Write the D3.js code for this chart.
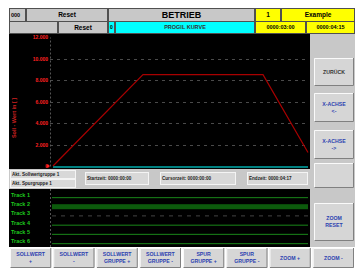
<!DOCTYPE html>
<html>
<head>
<meta charset="utf-8">
<script src="https://cdn.jsdelivr.net/npm/d3@7"></script>
<style>
body { margin: 0; background: #fff; }
svg { display: block; }
text { font-family: "Liberation Sans", Arial, sans-serif; font-weight: bold; }
</style>
</head>
<body>
<div id="chart"></div>
<script>
// Sollwert curve (time in seconds, value)
var timeSec = [0, 90, 210, 255];
var sollwert = [0, 8500, 8500, 1250];
var yTicks = [0, 2000, 4000, 6000, 8000, 10000, 12000];
var timeMax = 255;

// tracks: 0 = no signal, 1 = thin, 2 = active band
var trackNames = ["Track 1", "Track 2", "Track 3", "Track 4", "Track 5", "Track 6"];
var trackLevel = [1, 2, 0, 1, 1, 1];

var infoLeft = ["Akt. Sollwertgruppe  1", "Akt. Spurgruppe        1"];
var infoTimes = ["Startzeit: 0000:00:00", "Cursorzeit: 0000:00:00", "Endzeit: 0000:04:17"];

var bottomButtons = [["SOLLWERT", "+"], ["SOLLWERT", "-"], ["SOLLWERT", "GRUPPE +"], ["SOLLWERT", "GRUPPE -"],
                     ["SPUR", "GRUPPE +"], ["SPUR", "GRUPPE -"], ["ZOOM +"], ["ZOOM -"]];
var sideButtons = [["ZURÜCK"], ["X-ACHSE", "<-"], ["X-ACHSE", "->"], [], ["ZOOM", "RESET"]];

var W = 355, H = 269;
var svg = d3.select("#chart").append("svg")
    .attr("width", W)
    .attr("height", H);

var gray = "#c8c8c8";

//top bar
function cell(x, y, w, h, fill, label, opt) {
  opt = opt || {};
  svg.append("rect")
    .attr("x", x + 0.5).attr("y", y + 0.5)
    .attr("width", w - 1).attr("height", h - 1)
    .attr("fill", fill)
    .attr("stroke", "#505050").attr("stroke-width", 1);
  if (label) {
    svg.append("text")
      .attr("x", opt.left ? x + 2 : x + w / 2)
      .attr("y", y + h / 2)
      .attr("dy", "0.35em")
      .attr("text-anchor", opt.left ? "start" : "middle")
      .attr("font-size", opt.size || 6.5)
      .attr("fill", opt.color || "#000")
      .text(label);
  }
}
cell(9, 8, 17, 14, gray, "000", {left: true, size: 5.5});
cell(26, 8, 82, 14, gray, "Reset");
cell(108, 8, 147, 14, gray, "BETRIEB", {size: 9});
cell(255, 8, 26, 14, "#ffff00", "1");
cell(281, 8, 74, 14, "#ffff00", "Example");
cell(9, 21, 49, 13, gray, "");
cell(58, 21, 50, 13, gray, "Reset");
cell(108, 21, 7, 13, "#00ffff", "0", {size: 5});
cell(115, 21, 140, 13, "#00ffff", "PROGIL KURVE", {size: 5.5, color: "#333"});
cell(255, 21, 51, 13, "#ffff00", "0000:03:00", {size: 5.5});
cell(306, 21, 49, 13, "#ffff00", "0000:04:15", {size: 5.5});

// right panel + info band
svg.append("rect").attr("x", 310).attr("y", 34).attr("width", 45).attr("height", 213).attr("fill", gray);
svg.append("rect").attr("x", 9).attr("y", 169).attr("width", 301).attr("height", 20).attr("fill", gray);

//Chart
svg.append("rect").attr("x", 9).attr("y", 34).attr("width", 301).attr("height", 135).attr("fill", "#000");

var xScale = d3.scaleLinear().domain([0, timeMax]).range([53, 308]);
var yScale = d3.scaleLinear().domain([0, 12000]).range([166, 37]);
var de = d3.formatLocale({decimal: ",", thousands: ".", grouping: [3], currency: ["", " €"]});

var grid = svg.append("g");
grid.selectAll("line")
  .data(yTicks.filter(function(d) { return d > 0 && d < 12000; }))
  .join("line")
    .attr("x1", 50).attr("x2", 308)
    .attr("y1", function(d) { return Math.round(yScale(d)) + 0.5; })
    .attr("y2", function(d) { return Math.round(yScale(d)) + 0.5; })
    .attr("stroke", "#4a4a4a")
    .attr("stroke-width", 1)
    .attr("stroke-dasharray", "3,4");

var yAxis = svg.append("g")
  .attr("transform", "translate(50,0)")
  .call(d3.axisLeft(yScale).tickValues(yTicks).tickFormat(de.format(",d")).tickSize(0).tickPadding(2));
yAxis.select(".domain").attr("stroke", "#555").attr("stroke-dasharray", "2,2");
yAxis.selectAll("text").attr("fill", "#ff2020").attr("font-size", 5).attr("font-family", "Liberation Sans, Arial");

svg.append("text")
  .attr("transform", "translate(16,118) rotate(-90)")
  .attr("text-anchor", "middle")
  .attr("font-size", 5.5)
  .attr("fill", "#d02020")
  .text("Soll - Wert in [ ]");

// x baseline
svg.append("line")
  .attr("x1", xScale(0)).attr("x2", xScale(timeMax))
  .attr("y1", 167).attr("y2", 167)
  .attr("stroke", "#008080").attr("stroke-width", 2);

var line = d3.line()
  .x(function(d, i) { return xScale(timeSec[i]); })
  .y(function(d) { return yScale(d); });
svg.append("path")
  .datum(sollwert)
  .attr("fill", "none")
  .attr("stroke", "#a80000")
  .attr("stroke-width", 1.2)
  .attr("d", line);
svg.append("circle")
  .attr("cx", xScale(0) - 5).attr("cy", yScale(0))
  .attr("r", 1.6).attr("fill", "#ff2020");

//Info band
function box(x, y, w, h, label, size) {
  svg.append("rect").attr("x", x + 0.5).attr("y", y + 0.5).attr("width", w - 1).attr("height", h - 1)
    .attr("fill", "#d8d8d8").attr("stroke", "#f4f4f4");
  svg.append("text").attr("x", x + 2).attr("y", y + h / 2).attr("dy", "0.35em")
    .attr("font-size", size || 4.6).attr("fill", "#222").text(label);
}
box(10, 170, 66, 9, infoLeft[0]);
box(10, 179, 66, 9, infoLeft[1]);
box(85, 172, 64, 13, infoTimes[0]);
box(160, 172, 76, 13, infoTimes[1]);
box(247, 172, 61, 13, infoTimes[2]);

//Tracks
svg.append("rect").attr("x", 9).attr("y", 189).attr("width", 301).attr("height", 58).attr("fill", "#000");
var trackY = d3.scalePoint().domain(trackNames).range([195, 241]);
svg.append("line").attr("x1", 50.5).attr("x2", 50.5).attr("y1", 189).attr("y2", 247)
  .attr("stroke", "#555").attr("stroke-dasharray", "2,2");
svg.selectAll(".tlabel")
  .data(trackNames)
  .join("text")
    .attr("class", "tlabel")
    .attr("x", 11)
    .attr("y", function(d) { return trackY(d); })
    .attr("dy", "0.35em")
    .attr("font-size", 5.5)
    .attr("fill", "#1ec81e")
    .text(function(d) { return d; });
svg.selectAll(".tline")
  .data(trackNames)
  .join("rect")
    .attr("class", "tline")
    .attr("x", 52)
    .attr("width", 256)
    .attr("y", function(d, i) { return trackY(d) + (trackLevel[i] == 2 ? 0 : 2); })
    .attr("height", function(d, i) { return trackLevel[i] == 2 ? 5 : 1.2; })
    .attr("fill", function(d, i) { return trackLevel[i] == 0 ? "none" : (trackLevel[i] == 2 ? "#0c5a0c" : "#157015"); });
svg.selectAll(".tdash")
  .data(trackNames.filter(function(d, i) { return trackLevel[i] == 0; }))
  .join("line")
    .attr("class", "tdash")
    .attr("x1", 52).attr("x2", 308)
    .attr("y1", function(d) { return trackY(d) + 2.5; })
    .attr("y2", function(d) { return trackY(d) + 2.5; })
    .attr("stroke", "#444").attr("stroke-dasharray", "4,5");

//Buttons
function button(x, y, w, h, lines, color) {
  var g = svg.append("g");
  g.append("rect").attr("x", x).attr("y", y).attr("width", w).attr("height", h).attr("fill", "#d6d6d6");
  g.append("path").attr("d", "M" + (x + 0.5) + "," + (y + h) + "V" + (y + 0.5) + "H" + (x + w))
    .attr("fill", "none").attr("stroke", "#fafafa");
  g.append("path").attr("d", "M" + (x + 0.5) + "," + (y + h - 0.5) + "H" + (x + w - 0.5) + "V" + y)
    .attr("fill", "none").attr("stroke", "#808080");
  g.selectAll("text").data(lines).join("text")
    .attr("x", x + w / 2)
    .attr("y", function(d, i) { return y + h / 2 + (i - (lines.length - 1) / 2) * 7; })
    .attr("dy", "0.35em")
    .attr("text-anchor", "middle")
    .attr("font-size", 5.2)
    .attr("fill", color)
    .text(function(d) { return d; });
}
var bx = d3.scaleBand().domain(d3.range(bottomButtons.length)).range([9, 355]);
bottomButtons.forEach(function(b, i) {
  button(bx(i) + 1, 248, bx.bandwidth() - 2, 20, b, "#2b3fb0");
});
var sideY = [58, 93, 130, 163, 203];
var sideH = [28, 29, 29, 25, 38];
sideButtons.forEach(function(b, i) {
  button(314, sideY[i], 40, sideH[i], b, i == 0 ? "#333" : "#2b3fb0");
});
</script>
</body>
</html>
